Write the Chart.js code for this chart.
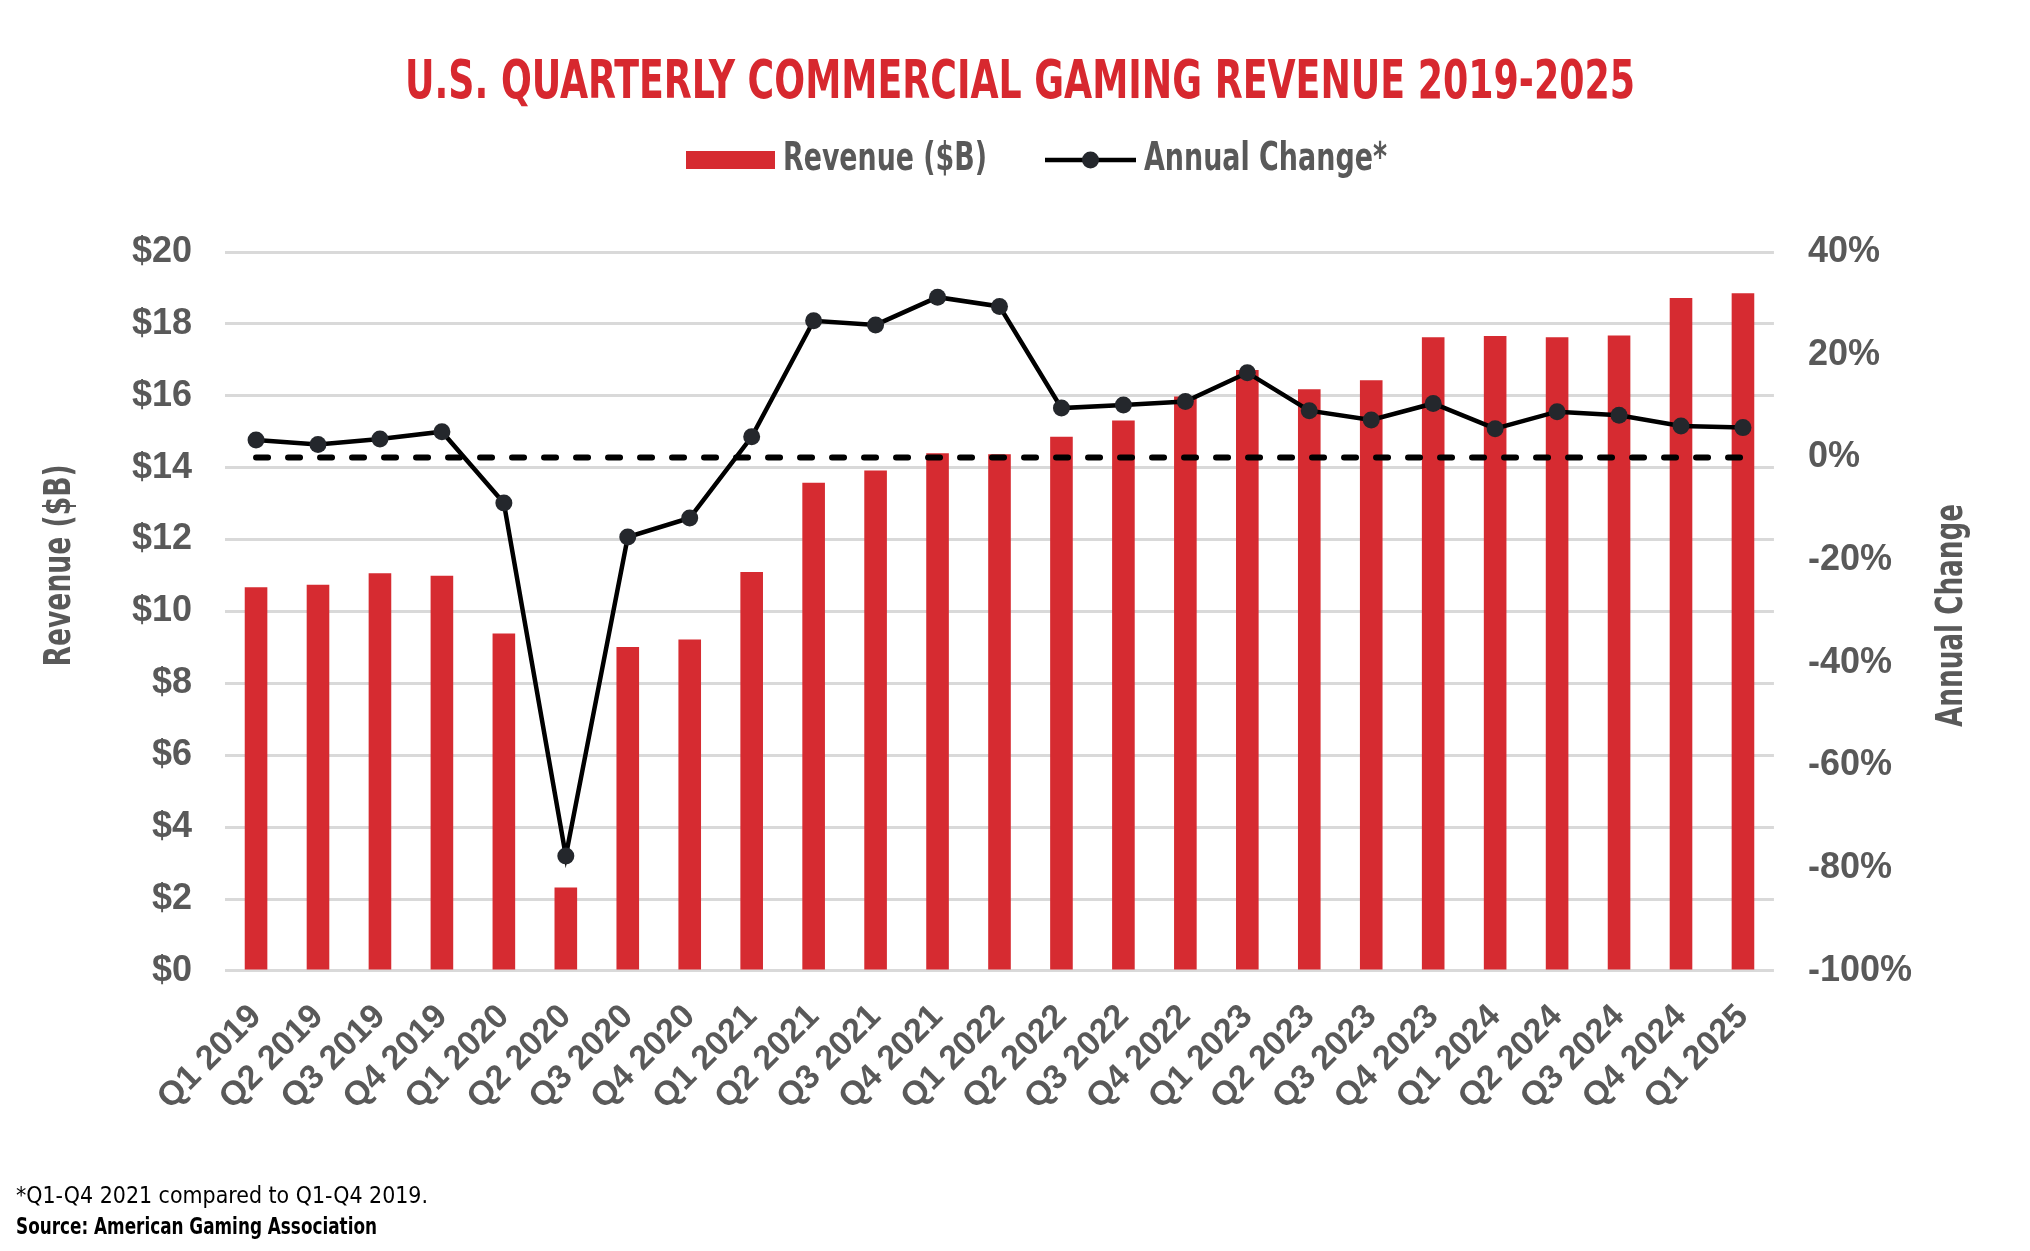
<!DOCTYPE html>
<html>
<head>
<meta charset="utf-8">
<title>U.S. Quarterly Commercial Gaming Revenue 2019-2025</title>
<script src="https://cdn.jsdelivr.net/npm/chart.js@4.4.1/dist/chart.umd.min.js"></script>
<style>
    html, body { margin: 0; padding: 0; background: #ffffff; }
    #wrap { width: 2030px; height: 1251px; }
</style>
</head>
<body>
<div id="wrap"><canvas id="gamingChart"></canvas></div>
<script>
// data
const quarters = [
    "Q1 2019", "Q2 2019", "Q3 2019", "Q4 2019",
    "Q1 2020", "Q2 2020", "Q3 2020", "Q4 2020",
    "Q1 2021", "Q2 2021", "Q3 2021", "Q4 2021",
    "Q1 2022", "Q2 2022", "Q3 2022", "Q4 2022",
    "Q1 2023", "Q2 2023", "Q3 2023", "Q4 2023",
    "Q1 2024", "Q2 2024", "Q3 2024", "Q4 2024",
    "Q1 2025"
];
const revenue = [
    10.67, 10.74, 11.06, 10.99,
    9.39, 2.32, 9.01, 9.22,
    11.10, 13.58, 13.92, 14.40,
    14.37, 14.86, 15.31, 15.98,
    16.72, 16.18, 16.43, 17.63,
    17.66, 17.63, 17.68, 18.72,
    18.85
];
const annualChange = [
    3.4, 2.5, 3.6, 5.0,
    -8.9, -77.6, -15.5, -11.8,
    4.0, 26.6, 25.8, 31.2,
    29.4, 9.6, 10.2, 10.9,
    16.5, 9.1, 7.3, 10.5,
    5.6, 8.9, 8.2, 6.1,
    5.8
];
const revenueAxis = { min: 0, max: 20, step: 2 };
const changeAxis = { min: -100, max: 40, step: 20 };

const chartTitle = "U.S. QUARTERLY COMMERCIAL GAMING REVENUE 2019-2025";
const revenueLabel = "Revenue ($B)";
const changeLabel = "Annual Change*";
const rightTitle = "Annual Change";
const footnote = "*Q1-Q4 2021 compared to Q1-Q4 2019.";
const sourceNote = "Source: American Gaming Association";

const RED = "#d62b31";
const TITLE_RED = "#d7282f";
const GREY = "#595959";
const DOT = "#24272c";
// no narrow face installed, so condensed text is squeezed with fillText's maxWidth
const COND = '"Liberation Sans Narrow", "DejaVu Sans Condensed", sans-serif';
const SANS = '"Liberation Sans", Arial, sans-serif';

function squeezed(ctx, text, x, y, font, color, width, align) {
    ctx.font = font;
    ctx.fillStyle = color;
    ctx.textAlign = align || "left";
    ctx.textBaseline = "middle";
    ctx.fillText(text, x, y, width);
}

function verticalText(ctx, text, x, y, font, width) {
    ctx.save();
    ctx.translate(x, y);
    ctx.rotate(-Math.PI / 2);
    squeezed(ctx, text, 0, 0, font, GREY, width, "center");
    ctx.restore();
}

const extras = {
    id: "extras",
    afterDatasetDraw(chart, args) {
        if (args.index !== 0) return;
        // dashed 0% reference line, over the bars and under the change line
        const x = chart.scales.x;
        const y0 = chart.scales.y1.getPixelForValue(0);
        const ctx = chart.ctx;
        ctx.save();
        ctx.strokeStyle = "#000000";
        ctx.lineWidth = 6;
        ctx.lineCap = "round";
        ctx.setLineDash([12, 20]);
        ctx.beginPath();
        ctx.moveTo(x.getPixelForValue(0), y0);
        ctx.lineTo(x.getPixelForValue(quarters.length - 1), y0);
        ctx.stroke();
        ctx.restore();
    },
    afterDraw(chart) {
        const ctx = chart.ctx;
        const area = chart.chartArea;
        const mid = (area.top + area.bottom) / 2;
        ctx.save();

        // title
        squeezed(ctx, chartTitle, 1020, 84, "bold 53px " + COND, TITLE_RED, 1230, "center");

        // legend
        ctx.fillStyle = RED;
        ctx.fillRect(686, 151, 89, 18);
        squeezed(ctx, revenueLabel, 783, 160, "bold 39px " + COND, GREY, 204);
        ctx.strokeStyle = "#000000";
        ctx.lineWidth = 4.5;
        ctx.beginPath();
        ctx.moveTo(1045, 160);
        ctx.lineTo(1136, 160);
        ctx.stroke();
        ctx.fillStyle = DOT;
        ctx.beginPath();
        ctx.arc(1090.5, 160, 8.5, 0, Math.PI * 2);
        ctx.fill();
        squeezed(ctx, changeLabel, 1144, 160, "bold 39px " + COND, GREY, 243);

        // axis titles
        verticalText(ctx, revenueLabel, 60, mid - 46, "bold 38px " + COND, 202);
        verticalText(ctx, rightTitle, 1952, mid + 4, "bold 38px " + COND, 223);

        // notes
        squeezed(ctx, footnote, 16, 1197, "23px " + COND, "#000000", 412);
        squeezed(ctx, sourceNote, 16, 1228, "bold 23px " + COND, "#000000", 361);
        ctx.restore();
    }
};

const ctx = document.getElementById("gamingChart").getContext("2d");

new Chart(ctx, {
    type: "bar",
    data: {
        labels: quarters,
        datasets: [
            {
                type: "bar",
                label: revenueLabel,
                data: revenue,
                backgroundColor: RED,
                barPercentage: 0.365,
                categoryPercentage: 1,
                yAxisID: "y",
                order: 2
            },
            {
                type: "line",
                label: changeLabel,
                data: annualChange,
                borderColor: "#000000",
                borderWidth: 4.5,
                pointRadius: 8.5,
                pointBackgroundColor: DOT,
                pointBorderWidth: 0,
                tension: 0,
                yAxisID: "y1",
                order: 1
            }
        ]
    },
    options: {
        responsive: true,
        maintainAspectRatio: false,
        devicePixelRatio: 1,
        animation: false,
        layout: {
            padding: { left: 99, right: 84, top: 252, bottom: 115 }
        },
        plugins: {
            title: { display: false },
            legend: { display: false },
            tooltip: { enabled: false }
        },
        scales: {
            x: {
                grid: { display: false },
                border: { display: false },
                ticks: {
                    color: GREY,
                    font: { family: SANS, weight: "bold", size: 34 },
                    minRotation: 45,
                    maxRotation: 45,
                    autoSkip: false,
                    padding: 18
                }
            },
            y: {
                position: "left",
                min: revenueAxis.min,
                max: revenueAxis.max,
                border: { display: false },
                grid: { color: "#d9d9d9", lineWidth: 3, drawTicks: false },
                ticks: {
                    stepSize: revenueAxis.step,
                    color: GREY,
                    padding: 33,
                    font: { family: SANS, weight: "bold", size: 36 },
                    callback: v => "$" + v
                }
            },
            y1: {
                position: "right",
                min: changeAxis.min,
                max: changeAxis.max,
                border: { display: false },
                grid: { display: false, drawTicks: false },
                ticks: {
                    stepSize: changeAxis.step,
                    color: GREY,
                    padding: 34,
                    font: { family: SANS, weight: "bold", size: 36 },
                    callback: v => v + "%"
                }
            }
        }
    },
    plugins: [extras]
});
</script>
</body>
</html>
